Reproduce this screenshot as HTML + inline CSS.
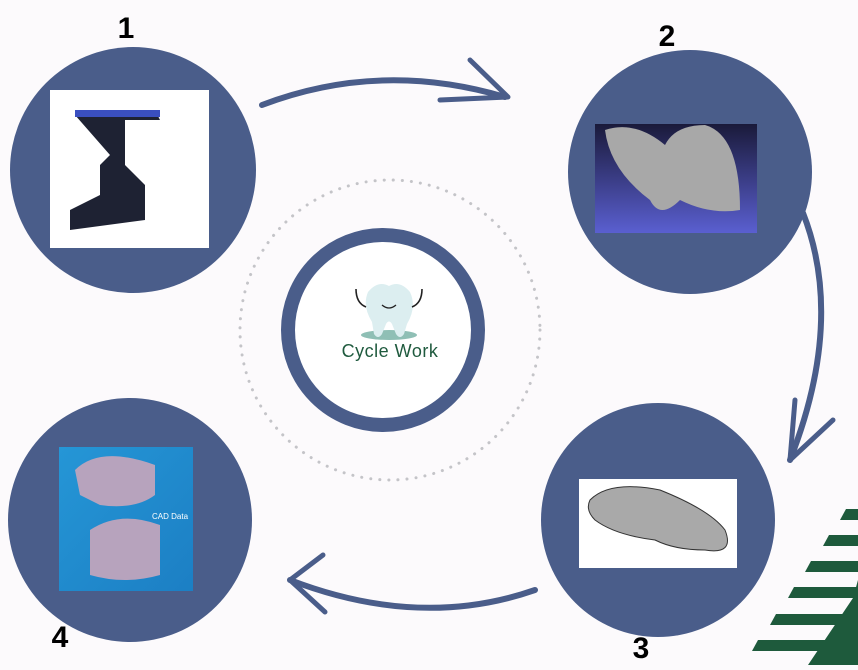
<!DOCTYPE html>
<html><head><style>
body{margin:0;width:858px;height:665px;background:#fcfafc;overflow:hidden;font-family:"Liberation Sans",sans-serif}
</style></head><body>
<svg width="858" height="665" viewBox="0 0 858 665" xmlns="http://www.w3.org/2000/svg">
<defs>
<linearGradient id="g2" x1="0" y1="0" x2="0" y2="1"><stop offset="0" stop-color="#1a1a3a"/><stop offset="1" stop-color="#5a5fd0"/></linearGradient>
<linearGradient id="g4" x1="0" y1="0" x2="1" y2="1"><stop offset="0" stop-color="#2596d6"/><stop offset="1" stop-color="#1c7fc4"/></linearGradient>
</defs>
<g fill="#4a5d8a">
<circle cx="133" cy="170" r="123"/>
<circle cx="690" cy="172" r="122"/>
<circle cx="658" cy="520" r="117"/>
<circle cx="130" cy="520" r="122"/>
</g>
<circle cx="390" cy="330" r="150" fill="none" stroke="#c4c4c8" stroke-width="3" stroke-dasharray="0.1 9" stroke-linecap="round"/>
<circle cx="383" cy="330" r="95" fill="#fff" stroke="#4a5d8a" stroke-width="14"/>
<!-- tooth -->
<ellipse cx="389" cy="335" rx="28" ry="5" fill="#8fbfb5"/>
<path d="M368 292 q10-12 21-6 q11-6 21 6 q7 15-3 32 l-3 10 q-4 6-8 0 l-4-10 q-3-5-6 0 l-4 10 q-4 6-8 0 l-2-12 q-10-16-4-30z" fill="#dceef0"/>
<path d="M356 289 q0 14 10 18 M422 289 q0 14-10 18" stroke="#222" stroke-width="1.6" fill="none"/>
<path d="M382 305 q7 6 14 0" stroke="#222" stroke-width="1.3" fill="none"/>
<text x="390" y="357" text-anchor="middle" font-size="18" fill="#1f5a3e" letter-spacing="0.5">Cycle Work</text>
<!-- images -->
<rect x="50" y="90" width="159" height="158" fill="#fff"/>
<path d="M75 110 h80 l5 10 h-35 v45 l20 20 v35 l-75 10 v-20 l30-15 v-30 l10-10 l-35-40z" fill="#1e2233"/>
<rect x="75" y="110" width="85" height="7" fill="#3a4fc0"/>
<rect x="595" y="124" width="162" height="109" fill="url(#g2)"/>
<path d="M605 130 q30-10 60 15 q10-20 40-20 q35 10 35 85 q-30 5-60-10 q-20 20-30 0 q-40-30-45-70z" fill="#a8a8a8"/>
<rect x="579" y="479" width="158" height="89" fill="#fff"/>
<path d="M590 500 q20-20 70-10 q50 20 65 40 q10 25-20 20 q-30 0-50-10 q-40-5-60-20 q-10-10-5-20z" fill="#a9a9a9" stroke="#333" stroke-width="1"/>
<rect x="59" y="447" width="134" height="144" fill="url(#g4)"/>
<path d="M75 470 q25-25 80-5 v30 q-20 15-55 10 l-20-10z" fill="#b7a3bd"/>
<path d="M90 530 q30-20 70-5 v50 q-35 10-70 0z" fill="#b7a3bd"/>
<text x="152" y="519" font-size="8" fill="#fff">CAD Data</text>
<!-- arrows -->
<g fill="none" stroke="#4a5d8a" stroke-linecap="round" stroke-linejoin="round">
<path d="M262 105 Q380 60 505 97" stroke-width="6"/>
<path d="M470 60 L508 97 L440 100" stroke-width="5"/>
<path d="M803 213 Q845 320 790 460" stroke-width="6"/>
<path d="M795 400 L790 460 L833 420" stroke-width="5"/>
<path d="M535 590 Q420 630 290 580" stroke-width="6"/>
<path d="M323 555 L290 580 L325 612" stroke-width="5"/>
</g>
<g font-weight="bold" font-size="30" fill="#000" text-anchor="middle">
<text x="126" y="38">1</text>
<text x="667" y="46">2</text>
<text x="641" y="658">3</text>
<text x="60" y="647">4</text>
</g>
<g fill="#1e5a3c">
<polygon points="846,509 858,509 858,520 840,520"/>
<polygon points="829,535 858,535 858,546 823,546"/>
<polygon points="811,561 858,561 858,572 805,572"/>
<polygon points="794,587 858,587 858,598 788,598"/>
<polygon points="776,614 858,614 858,625 770,625"/>
<polygon points="758,640 858,640 858,651 752,651"/>
<polygon points="858,580 858,665 808,665 853,598"/>
</g>
</svg>
</body></html>
